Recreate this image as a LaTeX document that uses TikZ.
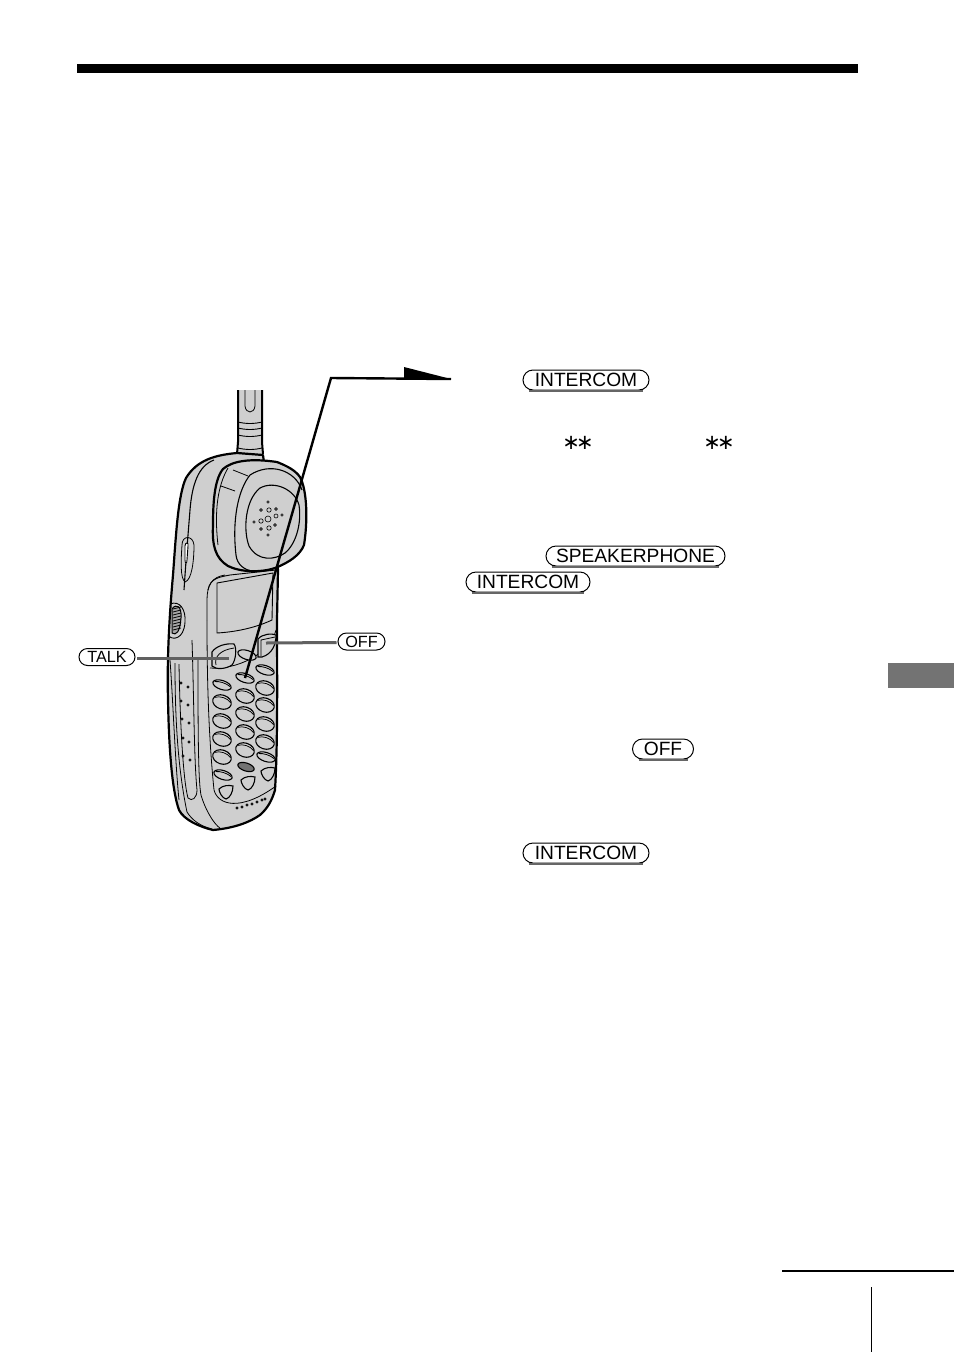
\documentclass[tikz,border=0pt]{standalone}
\usepackage{fontspec}
\setmainfont{Liberation Sans}
\newfontfamily\symfont{DejaVu Sans}
\usetikzlibrary{shapes.misc}
\definecolor{bodygray}{gray}{0.81}
\tikzset{
    keylabel/.style={draw, rounded rectangle, line width=1pt, fill=white, inner sep=0pt, minimum height=20pt, font=\fontsize{19.2}{21}\selectfont},
    keyshade/.style={black!60, line width=1.5pt},
    leader/.style={line width=3pt, black!62},
    callout/.style={line width=2.4pt, black},
    outline/.style={line width=1.1pt, black},
    thickoutline/.style={line width=2.2pt, black, line join=round},
    phonekey/.style={draw=black, line width=1.1pt, fill=bodygray},
    hole/.style={draw=black, line width=.6pt, fill=bodygray},
    starlabel/.style={font=\symfont\fontsize{21}{21}\selectfont, inner sep=0pt}
}
\begin{document}
\begin{tikzpicture}[x=1pt,y=-1pt]
    \useasboundingbox[fill=white] (0,0) rectangle (954,1352);

    % page furniture
    \fill[black] (77,64) rectangle (858,73);
    \fill[black!55] (888,663) rectangle (954,688);
    \coordinate (ruleL) at (782,1271);
    \coordinate (ruleR) at (954,1271);
    \draw[line width=2.4pt] (ruleL) -- (ruleR);
    \coordinate (tickT) at (871,1287);
    \coordinate (tickB) at (871,1352);
    \draw[line width=1pt] (tickT) -- (tickB);

    % antenna
    \fill[bodygray] (238,390) -- (238,440) -- (237,455) -- (263,455) -- (262,440) -- (262,390) -- cycle;
    \draw[line width=2pt] (238,390) -- (238,442) -- (237,454);
    \draw[line width=2pt] (262,390) -- (262,442) -- (263,454);
    \foreach \y in {422,428,435,448}{
            \draw[line width=.9pt] (238,\y) .. controls (246,\y+2) and (254,\y+2) .. (262,\y);
    }
    \draw[line width=.8pt] (245,390) -- (245,406) .. controls (246,414) and (254,414) .. (255,406) -- (255,390);

    % body
    \draw[thickoutline, fill=bodygray] (237,453)
        .. controls (215,455) and (197,460) .. (186,478)
        .. controls (178,495) and (176,535) .. (173,575)
        .. controls (169,620) and (167,660) .. (168,700)
        .. controls (169,750) and (172,790) .. (179,810)
        .. controls (184,820) and (200,827) .. (213,830)
        .. controls (235,828) and (250,822) .. (260,815)
        .. controls (268,808) and (272,800) .. (275,790)
        .. controls (278,740) and (277,670) .. (277,620)
        -- (278,570) -- (263,455) -- cycle;

    % inner contours of the body
    \draw[outline] (214,460) .. controls (198,466) and (192,485) .. (190,510) .. controls (188,535) and (186,560) .. (184,590);
    \draw[line width=.8pt] (170,660) .. controls (173,700) and (175,760) .. (179,800);
    \draw[line width=.8pt] (175,663) .. controls (175,700) and (176,760) .. (187,812) .. controls (192,820) and (200,826) .. (212,829);
    \draw[line width=.8pt] (192,640) .. controls (194,700) and (194,760) .. (197,790) .. controls (197,798) and (192,802) .. (188,798) .. controls (183,780) and (180,720) .. (179,664);
    \draw[line width=.8pt] (198,660) .. controls (198,720) and (198,780) .. (201,795) .. controls (206,812) and (215,825) .. (220,828);
    \draw[line width=.8pt] (207,620) -- (207,600) .. controls (207,585) and (212,577) .. (225,575);
    \draw[line width=.8pt] (207,620) .. controls (207,670) and (208,730) .. (214,790) .. controls (218,805) and (240,812) .. (276,786);
    \draw[line width=.8pt] (276,630) .. controls (270,655) and (235,670) .. (210,668);

    % side key and volume wheel
    \draw[line width=.8pt] (182,545) .. controls (182,535) and (193,535) .. (194,545) .. controls (194,560) and (192,580) .. (185,582) .. controls (180,578) and (181,560) .. (182,545);
    \draw[line width=.9pt, fill=white] (185,546) .. controls (185,542) and (189,542) .. (188,546) -- (187,560) .. controls (187,564) and (185,564) .. (185,560) -- cycle;
    \draw[line width=.9pt] (170,604) .. controls (180,600) and (186,610) .. (185,622) .. controls (184,640) and (172,640) .. (169,636);
    \draw[line width=1pt, fill=black!35] (172,609) .. controls (176,603) and (182,606) .. (181,618) .. controls (180,632) and (176,636) .. (172,633) -- cycle;
    \foreach \y in {609,612,...,630}{
            \draw[line width=.8pt] (173,\y) -- (181,\y-2);
    }

    % earpiece
    \draw[thickoutline, fill=bodygray] (223,469)
        .. controls (232,461) and (250,458) .. (277,462)
        .. controls (287,466) and (295,470) .. (300,477)
        .. controls (307,490) and (308,520) .. (304,545)
        .. controls (300,555) and (290,562) .. (275,568)
        .. controls (260,573) and (240,572) .. (228,566)
        .. controls (215,558) and (212,545) .. (213,525)
        .. controls (213,505) and (214,480) .. (223,469) -- cycle;
    \draw[outline] (250,475) .. controls (270,462) and (295,470) .. (302,490);
    \draw[outline] (250,475) .. controls (238,490) and (232,520) .. (236,555) .. controls (237,565) and (245,570) .. (252,571);
    \draw[outline] (260,488) .. controls (275,480) and (295,490) .. (299,505) .. controls (302,525) and (295,545) .. (285,553) .. controls (275,560) and (258,562) .. (249,546) .. controls (243,530) and (245,500) .. (260,488) -- cycle;
    \draw[line width=.8pt] (233,470) -- (248,476);
    \draw[line width=.8pt] (221,486) -- (235,491);
    \draw[line width=.8pt] (228,468) .. controls (218,485) and (214,510) .. (218,545);

    % speaker holes
    \foreach \x/\y/\r in {268/502/1.3, 261/510/1.4, 269/510/2.2, 276/509/1.4, 254/522/1.3, 261/521/2.2, 268/519/3, 276/516/2, 282/515/1.3, 261/529/1.4, 269/528/2.2, 275/525/1.4, 268/535/1.3}{
            \draw[hole] (\x,\y) circle (\r);
    }

    % display
    \draw[line width=.9pt, fill=bodygray] (217,583) -- (273,573) -- (272,620) .. controls (255,628) and (235,632) .. (217,633) -- cycle;
    \draw[line width=.9pt] (208,590) .. controls (210,578) and (220,577) .. (230,575) -- (276,570);

    % top keys
    \draw[phonekey] (212,652) .. controls (216,646) and (226,643) .. (234,644) .. controls (237,648) and (236,660) .. (232,665) .. controls (226,669) and (216,670) .. (212,666) -- cycle;
    \draw[line width=.8pt] (216,665) .. controls (214,657) and (220,650) .. (234,648);
    \draw[phonekey, rotate around={-18:(247,655)}] (247,655) ellipse (9.5 and 4.5);
    \draw[phonekey] (258,639) .. controls (262,634) and (272,633) .. (276,635) .. controls (276,645) and (272,654) .. (262,657) -- (258,657) -- cycle;
    \draw[line width=.8pt] (261,656) -- (261,640) -- (275,637);

    % flat keys
    \foreach \x/\y in {222/685, 245/678, 265/670, 223/775, 266/757}{
            \draw[phonekey, rotate around={-18:(\x,\y)}] (\x,\y) ellipse (9.5 and 4.5);
            \draw[line width=.8pt, rotate around={-18:(\x,\y)}] (\x-8,\y-1) .. controls (\x-4,\y-3) and (\x+4,\y-3) .. (\x+8,\y-1);
    }
    \draw[phonekey, fill=black!55, rotate around={-18:(246,767)}] (246,767) ellipse (8.5 and 4);

    % round keys
    \foreach \x/\y in {222/702, 245/696, 265/688, 222/721, 245/714, 265/705, 222/739, 245/732, 265/724, 222/757, 245/750, 265/742}{
            \draw[phonekey, rotate around={-18:(\x,\y)}] (\x,\y) ellipse (9.5 and 7);
            \draw[line width=.7pt, rotate around={-18:(\x,\y)}] (\x-8.5,\y-2) .. controls (\x-4,\y-5.5) and (\x+4,\y-5.5) .. (\x+8.5,\y-2);
    }

    % bottom keys
    \foreach \x/\y in {226/792, 248/783, 268/774}{
            \draw[phonekey] (\x-7,\y-3) .. controls (\x-3,\y-7) and (\x+3,\y-7) .. (\x+7,\y-6) .. controls (\x+7,\y) and (\x+4,\y+6) .. (\x,\y+7) .. controls (\x-4,\y+6) and (\x-7,\y) .. (\x-7,\y-3) -- cycle;
    }

    % mic holes
    \foreach \x/\y in {237/808, 242/807, 247/805, 252/804, 257/802, 262/800, 265/799}{
            \draw[hole] (\x,\y) circle (1.1);
    }
    % strip holes
    \foreach \x/\y in {181/683, 188/687, 181/701, 188/705, 182/719, 189/723, 183/738, 189/742, 183/756, 190/760}{
            \draw[hole] (\x,\y) circle (1.1);
    }

    % key labels
    \node[keylabel, minimum width=126pt] (intercomA) at (586,380) {INTERCOM};
    \node[keylabel, minimum width=179pt] (speakerphone) at (635.5,556) {SPEAKERPHONE};
    \node[keylabel, minimum width=124pt] (intercomB) at (528,582) {INTERCOM};
    \node[keylabel, minimum width=61pt] (offB) at (663,749) {OFF};
    \node[keylabel, minimum width=126pt] (intercomC) at (586,853) {INTERCOM};
    \node[keylabel, minimum width=47pt, minimum height=17pt, font=\fontsize{16.2}{18}\selectfont] (off) at (361.5,641.5) {OFF};
    \node[keylabel, minimum width=56pt, minimum height=17pt, font=\fontsize{16.2}{18}\selectfont] (talk) at (107,657) {TALK};

    \foreach \k in {intercomA,speakerphone,intercomB,offB,intercomC}{
            \draw[keyshade] ([xshift=-4pt,yshift=-.6pt]\k.south west) -- ([xshift=4pt,yshift=-.6pt]\k.south east);
    }

    \node[starlabel] (starA) at (578,443) {∗\hspace{-4pt}∗};
    \node[starlabel] (starB) at (719,443) {∗\hspace{-4pt}∗};

    % leaders
    \coordinate (talkKey) at (229,658);
    \coordinate (offKey) at (266,643);
    \draw[leader] (talk) ++(30,1) -- (talkKey);
    \draw[leader] (off.west) ++(-1,1) -- (offKey);

    % callout to the intercom key
    \coordinate (keyEnd) at (245,678);
    \coordinate (bend) at (331,378);
    \coordinate (tip) at (451,379);
    \draw[callout] (keyEnd) -- (bend) -- (tip);
    \fill[black] (tip) -- (404,367) -- (404,379) -- cycle;
\end{tikzpicture}
\end{document}
